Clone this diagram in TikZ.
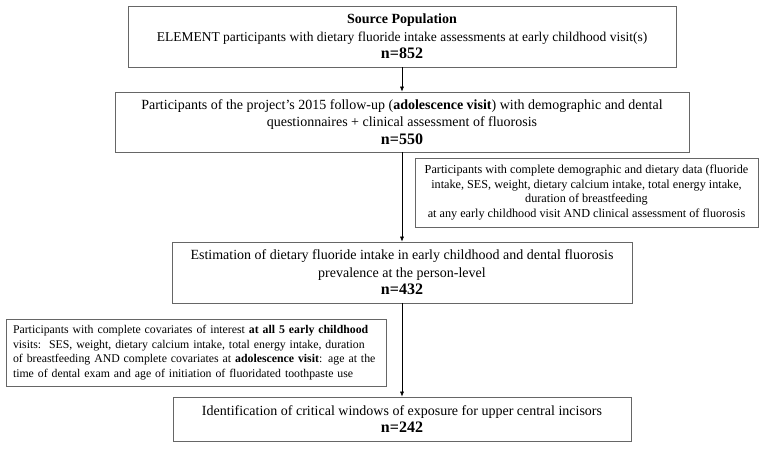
\documentclass[tikz,border=0pt]{standalone}
\usepackage{fontspec}
\setmainfont{Liberation Serif}
\usetikzlibrary{arrows.meta}
\begin{document}
\begin{tikzpicture}[x=1pt,y=-1pt,
  box/.style={draw=black!60, line width=0.8pt, rectangle, align=center, inner sep=0pt, font=\fontsize{14}{17.5}\selectfont},
  note/.style={draw=black!60, line width=0.8pt, rectangle, inner sep=0pt, font=\fontsize{12.2}{14.5}\selectfont},
  arr/.style={-{Latex[length=5pt,width=4pt]}, line width=0.5pt}]
\useasboundingbox (0,0) rectangle (765,448);
\newcommand{\nnum}[1]{{\fontsize{16}{17.5}\selectfont\bfseries #1}}
\node[box, minimum width=548pt, minimum height=61pt] (src) at (402,36.5)
  {\textbf{Source Population}\\{\fontsize{13.5}{17.5}\selectfont ELEMENT participants with dietary fluoride intake assessments at early childhood visit(s)}\\\nnum{n=852}};
\node[box, minimum width=574pt, minimum height=60pt] (adol) at (402,122)
  {Participants of the project’s 2015 follow-up (\textbf{adolescence visit}) with demographic and dental\\questionnaires + clinical assessment of fluorosis\\\nnum{n=550}};
\node[note, align=center, minimum width=343pt, minimum height=69pt] (excl1) at (586.5,192.5)
  {Participants with complete demographic and dietary data (fluoride\\intake, SES, weight, dietary calcium intake, total energy intake,\\duration of breastfeeding\\at any early childhood visit AND clinical assessment of fluorosis};
\node[box, minimum width=460pt, minimum height=61pt] (est) at (402,272.5)
  {Estimation of dietary fluoride intake in early childhood and dental fluorosis\\prevalence at the person-level\\\nnum{n=432}};
\node[note, align=left, minimum width=380pt, minimum height=67pt, text width=366pt, font=\fontsize{11.8}{14.5}\selectfont] (excl2) at (196,352.5)
  {Participants with complete covariates of interest \textbf{at all 5 early childhood}\\visits:\ \ SES, weight, dietary calcium intake, total energy intake, duration\\of breastfeeding AND complete covariates at \textbf{adolescence visit}: age at the\\time of dental exam and age of initiation of fluoridated toothpaste use};
\node[box, minimum width=458pt, minimum height=44pt] (crit) at (402,419)
  {Identification of critical windows of exposure for upper central incisors\\\nnum{n=242}};
\draw[arr] (src.south) -- (adol.north);
\draw[arr] (adol.south) -- (est.north);
\draw[arr] (est.south) -- (crit.north);
\end{tikzpicture}
\end{document}
